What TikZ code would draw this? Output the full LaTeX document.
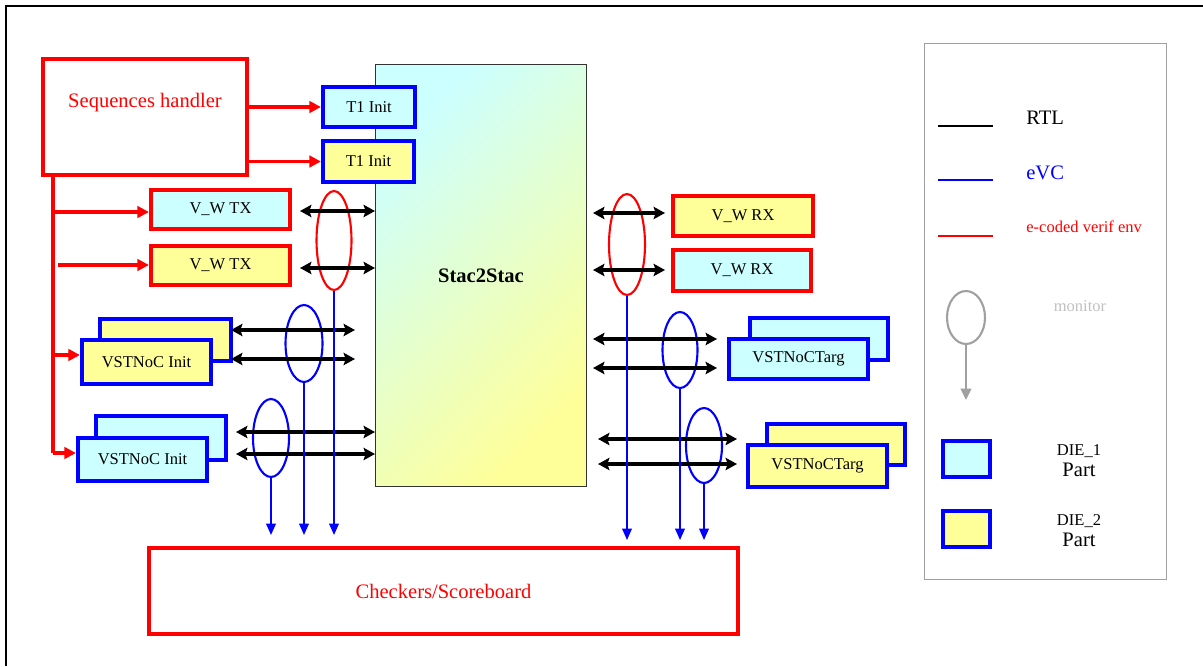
\documentclass[tikz,border=0pt]{standalone}
\usepackage{fontspec}
\setmainfont{Liberation Serif}
\usetikzlibrary{arrows.meta,shapes.geometric}

\definecolor{dieone}{HTML}{CCFFFF}
\definecolor{dietwo}{HTML}{FFFF99}
\definecolor{envred}{HTML}{FF0000}
\definecolor{evcblue}{HTML}{0000FF}
\definecolor{framegray}{HTML}{A0A0A0}
\definecolor{montext}{HTML}{C0C0C0}

\newcommand{\smalltxt}{\fontsize{9.4}{11}\selectfont}
\newcommand{\bigtxt}{\fontsize{11.7}{14}\selectfont}

\tikzset{
  blk/.style={draw, line width=2.4pt, inner sep=0pt, font=\smalltxt},
  redblk/.style={blk, draw=envred},
  blueblk/.style={blk, draw=evcblue},
  mon/.style={ellipse, draw, line width=1.2pt, inner sep=0pt},
  envarr/.style={envred, line width=2pt, -{Triangle[length=6.5pt,width=6.5pt]}},
  rtlarr/.style={line width=1.8pt, {Stealth[length=6.5pt,width=7pt,inset=1.2pt]}-{Stealth[length=6.5pt,width=7pt,inset=1.2pt]}},
  evcarr/.style={evcblue, line width=0.9pt, -{Triangle[length=6.5pt,width=5.5pt]}},
}

\begin{document}
\begin{tikzpicture}[x=0.02cm, y=-0.02cm]
    \useasboundingbox (0,0) rectangle (1203,666);

    % page frame
    \draw[line width=1.1pt] (6,666) -- (6,6) -- (1203,6);

    % DUT
    \node[draw=black!80, line width=0.6pt, top color=dieone, bottom color=dietwo, shading angle=45,
          minimum width=4.22cm, minimum height=8.44cm, font=\bfseries\bigtxt] (stac) at (481,275.5) {Stac2Stac};

    % sequences handler
    \node[redblk, minimum width=4.08cm, minimum height=2.32cm] (seq) at (145,117) {};
    \node[font=\bigtxt, text=envred] (seqtxt) at (145,103) {Sequences handler};

    % T1 initiators
    \node[blueblk, fill=dieone, minimum width=1.84cm, minimum height=0.80cm] (t1a) at (369,107) {T1 Init};
    \node[blueblk, fill=dietwo, minimum width=1.82cm, minimum height=0.82cm] (t1b) at (368.5,161.5) {T1 Init};
    \draw[envarr] (seq.east |- t1a) -- (t1a);
    \draw[envarr] (seq.east |- t1b) -- (t1b);

    % V_W TX
    \node[redblk, fill=dieone, minimum width=2.78cm, minimum height=0.78cm] (txa) at (220.5,209.5) {V\_W TX};
    \node[redblk, fill=dietwo, minimum width=2.78cm, minimum height=0.78cm] (txb) at (220.5,265.5) {V\_W TX};

    % VSTNoC initiators (stacked)
    \node[blueblk, fill=dietwo, minimum width=2.62cm, minimum height=0.84cm] (iniAback) at (165.5,340) {};
    \node[blueblk, fill=dietwo, minimum width=2.58cm, minimum height=0.88cm] (iniA) at (146.5,362) {VSTNoC Init};
    \node[blueblk, fill=dieone, minimum width=2.60cm, minimum height=0.88cm] (iniBback) at (161,438) {};
    \node[blueblk, fill=dieone, minimum width=2.58cm, minimum height=0.86cm] (iniB) at (142.5,459.5) {VSTNoC Init};

    % V_W RX
    \node[redblk, fill=dietwo, minimum width=2.80cm, minimum height=0.80cm] (rxa) at (743,216) {V\_W RX};
    \node[redblk, fill=dieone, minimum width=2.76cm, minimum height=0.82cm] (rxb) at (742,270.5) {V\_W RX};

    % VSTNoC targets (stacked)
    \node[blueblk, fill=dieone, minimum width=2.76cm, minimum height=0.84cm] (tgAback) at (819,339) {};
    \node[blueblk, fill=dieone, minimum width=2.78cm, minimum height=0.80cm] (tgA) at (798.5,359) {VSTNoCTarg};
    \node[blueblk, fill=dietwo, minimum width=2.76cm, minimum height=0.82cm] (tgBback) at (836,444.5) {};
    \node[blueblk, fill=dietwo, minimum width=2.78cm, minimum height=0.84cm] (tgB) at (817.5,466) {VSTNoCTarg};

    % checkers
    \node[redblk, minimum width=11.78cm, minimum height=1.72cm, font=\bigtxt, text=envred] (chk) at (443.5,591) {Checkers/Scoreboard};

    % sequencer bus
    \coordinate (bus) at (53,177);
    \coordinate (busA) at (53,212);
    \coordinate (busB) at (58,265);
    \coordinate (busC) at (53,355);
    \coordinate (busD) at (53,453);
    \draw[envred, line width=2pt] (bus) -- (busD);
    \draw[envarr] (busA) -- (busA -| txa.west);
    \draw[envarr] (busB) -- (busB -| txb.west);
    \draw[envarr] (busC) -- (busC -| iniA.west);
    \draw[envarr] (busD) -- (busD -| iniB.west);

    % monitors
    \node[mon, envred, minimum width=0.70cm, minimum height=1.98cm] (monL1) at (334,240.5) {};
    \node[mon, evcblue, minimum width=0.74cm, minimum height=1.54cm] (monL2) at (304,343.5) {};
    \node[mon, evcblue, minimum width=0.72cm, minimum height=1.56cm] (monL3) at (271,438) {};
    \node[mon, envred, minimum width=0.72cm, minimum height=2.02cm] (monR1) at (627,244.5) {};
    \node[mon, evcblue, minimum width=0.70cm, minimum height=1.52cm] (monR2) at (680,350) {};
    \node[mon, evcblue, minimum width=0.72cm, minimum height=1.50cm] (monR3) at (704,445.5) {};

    % RTL links, left
    \coordinate (lkA) at (300,211);
    \coordinate (lkB) at (300,268);
    \coordinate (lkC) at (231,330);
    \coordinate (lkD) at (231,359);
    \coordinate (lkE) at (236,432);
    \coordinate (lkF) at (236,454);
    \draw[rtlarr] (lkA) -- (lkA -| stac.west);
    \draw[rtlarr] (lkB) -- (lkB -| stac.west);
    \draw[rtlarr] (lkC) -- ++(124,0);
    \draw[rtlarr] (lkD) -- ++(124,0);
    \draw[rtlarr] (lkE) -- (lkE -| stac.west);
    \draw[rtlarr] (lkF) -- (lkF -| stac.west);

    % RTL links, right
    \coordinate (rkA) at (593,213);
    \coordinate (rkB) at (593,270);
    \coordinate (rkC) at (593,339);
    \coordinate (rkD) at (593,368);
    \coordinate (rkE) at (598,439);
    \coordinate (rkF) at (598,464);
    \draw[rtlarr] (rkA) -- ++(72,0);
    \draw[rtlarr] (rkB) -- ++(72,0);
    \draw[rtlarr] (rkC) -- ++(124,0);
    \draw[rtlarr] (rkD) -- ++(124,0);
    \draw[rtlarr] (rkE) -- ++(139,0);
    \draw[rtlarr] (rkF) -- ++(139,0);

    % monitor taps to checkers
    \coordinate (tapL) at (0,535);
    \coordinate (tapR) at (0,540);
    \draw[evcarr] (monL1.south) -- (monL1.south |- tapL);
    \draw[evcarr] (monL2.south) -- (monL2.south |- tapL);
    \draw[evcarr] (monL3.south) -- (monL3.south |- tapL);
    \draw[evcarr] (monR1.south) -- (monR1.south |- tapR);
    \draw[evcarr] (monR2.south) -- (monR2.south |- tapR);
    \draw[evcarr] (monR3.south) -- (monR3.south |- tapR);

    % legend
    \node[draw=framegray, line width=0.9pt, minimum width=4.84cm, minimum height=10.72cm] (legend) at (1045.5,311.5) {};
    \draw[line width=1.7pt] (938,126) -- (993,126);
    \node[anchor=west, inner sep=0pt, font=\bigtxt] (rtltxt) at (1026,118) {RTL};
    \draw[evcblue, line width=1.7pt] (938,180) -- (993,180);
    \node[anchor=west, inner sep=0pt, font=\bigtxt, text=evcblue] (evctxt) at (1026,173) {eVC};
    \draw[envred, line width=1.7pt] (938,236) -- (993,236);
    \node[anchor=west, inner sep=0pt, font=\smalltxt, text=envred] (envtxt) at (1026,227) {e-coded verif env};
    \node[mon, framegray, minimum width=0.76cm, minimum height=1.06cm] (monK) at (966,317.5) {};
    \node[font=\smalltxt, text=montext] (montxt) at (1080,306) {monitor};
    \draw[framegray, line width=1.2pt, -{Triangle[length=6.5pt,width=6pt]}] (monK.south) -- ++(0,55);
    \node[blueblk, fill=dieone, minimum width=0.94cm, minimum height=0.72cm] (die1) at (966.5,459) {};
    \node[align=center, inner sep=0pt] (die1txt) at (1079,461) {{\smalltxt DIE\_1}\\{\bigtxt Part}};
    \node[blueblk, fill=dietwo, minimum width=0.94cm, minimum height=0.72cm] (die2) at (966.5,529) {};
    \node[align=center, inner sep=0pt] (die2txt) at (1079,531) {{\smalltxt DIE\_2}\\{\bigtxt Part}};
\end{tikzpicture}
\end{document}
